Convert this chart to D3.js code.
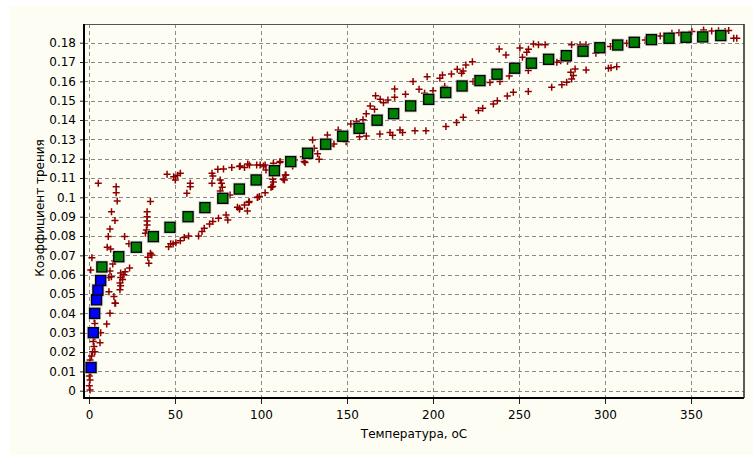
<!DOCTYPE html>
<html>
<head>
<meta charset="utf-8">
<script src="https://cdn.jsdelivr.net/npm/d3@7"></script>
<style>
  html, body { margin: 0; padding: 0; background: #ffffff; }
  svg { display: block; }
  text { font-family: "DejaVu Sans", sans-serif; font-size: 12px; fill: #000; }
</style>
</head>
<body>
<div id="chart"></div>
<script>
// тики осей
let xTicks = [0, 50, 100, 150, 200, 250, 300, 350]
let yTicks = [0, 0.01, 0.02, 0.03, 0.04, 0.05, 0.06, 0.07, 0.08, 0.09, 0.1,
  0.11, 0.12, 0.13, 0.14, 0.15, 0.16, 0.17, 0.18]

// синие квадраты (начальный участок)
let blueT = [1.2, 2.5, 3.3, 4.4, 5.2, 6.8]
let blueK = [0.012, 0.030, 0.040, 0.047, 0.052, 0.057]

// зелёные квадраты
let greenT = [7.5, 17.3, 27.5, 37.4, 47.1, 57.6, 67.4, 77.8, 87.4, 97.2, 107.8,
  117.3, 127.1, 137.6, 147.5, 157.0, 167.5, 177.1, 187.0, 197.5, 207.4, 216.9,
  227.3, 237.2, 247.5, 257.2, 267.2, 277.5, 287.2, 297.0, 307.4, 317.0, 327.0,
  337.2, 347.1, 356.8, 367.3]
let greenK = [0.064, 0.0693, 0.0742, 0.0797, 0.0845, 0.090, 0.0947, 0.0995,
  0.1043, 0.109, 0.1138, 0.1185, 0.1228, 0.1275, 0.1316, 0.1357, 0.1399, 0.1433,
  0.1473, 0.1507, 0.1542, 0.1576, 0.1604, 0.1637, 0.1668, 0.1694, 0.1714, 0.1733,
  0.1756, 0.1774, 0.1788, 0.1802, 0.1816, 0.1823, 0.1828, 0.1830, 0.1837]

// экспериментальные точки (крестики): [температура, коэффициент]
let crossPts = [
  [0.6, 0.0004], [0.2, 0.0025], [0.6, 0.0055], [0.2, 0.0076], [1.0, 0.0098], [0.6, 0.0159],
  [1.5, 0.018], [2.1, 0.0202], [3.4, 0.0202], [2.9, 0.0228], [2.5, 0.0254], [3.4, 0.0279],
  [3.0, 0.0305], [3.4, 0.0348], [3.0, 0.0374], [6.4, 0.0248], [6.8, 0.030], [10.3, 0.0345],
  [12.2, 0.040], [15.1, 0.0452], [1.7, 0.0688], [1.0, 0.0624], [5.4, 0.1073],
  [11.6, 0.0512], [14.5, 0.0487], [15.4, 0.0452], [12.2, 0.0619], [11.6, 0.0585], [13.0, 0.059],
  [18.4, 0.0609], [18.4, 0.0585], [18.0, 0.0557], [18.4, 0.0543], [18.0, 0.0522],
  [20.3, 0.060], [21.0, 0.0615], [19.5, 0.0575], [23.6, 0.0635], [15.0, 0.0672], [13.8, 0.0655],
  [15.8, 0.1055], [15.8, 0.1024], [16.4, 0.0981], [13.1, 0.0926], [15.1, 0.088], [12.2, 0.0836],
  [11.2, 0.0797], [10.6, 0.0742], [12.6, 0.0733], [20.7, 0.0797], [23.2, 0.076],
  [35.7, 0.0978], [33.8, 0.0926], [33.8, 0.090], [33.8, 0.0878], [33.8, 0.0857], [33.4, 0.0831],
  [32.8, 0.0814], [35.7, 0.0711], [36.5, 0.0702], [34.8, 0.0659], [34.2, 0.069],
  [45.4, 0.112], [49.2, 0.1107], [50.2, 0.109], [53.1, 0.1125], [51.5, 0.1115],
  [58.9, 0.1073], [58.9, 0.1055], [56.9, 0.1021],
  [46.3, 0.0745], [47.5, 0.076], [48.9, 0.0759], [50.5, 0.0765], [53.1, 0.0776], [55.4, 0.0793],
  [57.9, 0.080], [63.7, 0.080], [65.7, 0.0823], [67.0, 0.084], [70.1, 0.0862], [72.0, 0.0875],
  [75.3, 0.0892], [79.7, 0.0909], [80.7, 0.0883], [86.3, 0.0949], [87.5, 0.0938], [93.1, 0.0978],
  [92.1, 0.0929], [97.9, 0.0999], [99.1, 0.1004], [102.4, 0.1024], [106.3, 0.1055], [107.2, 0.108],
  [71.5, 0.1125], [72.0, 0.1111], [74.9, 0.1145], [78.2, 0.1147], [83.0, 0.1154], [87.9, 0.1162],
  [92.3, 0.1173], [97.5, 0.1168], [102.4, 0.1168], [107.2, 0.1176],
  [71.5, 0.1073], [76.3, 0.109], [77.0, 0.1073], [77.5, 0.1052], [76.3, 0.1033], [82.0, 0.1012],
  [87.5, 0.1159], [90.4, 0.1155], [93.3, 0.1167], [99.5, 0.1167], [101.4, 0.1162], [102.9, 0.1142],
  [111.1, 0.1185], [116.4, 0.1176],
  [87.5, 0.0944], [90.4, 0.0961], [92.9, 0.0973], [98.1, 0.100], [105.8, 0.1052], [106.8, 0.1094],
  [113.6, 0.109], [114.5, 0.1116], [118.4, 0.1168], [125.1, 0.1185],
  [111.0, 0.118], [114.1, 0.1116], [112.9, 0.1094], [106.8, 0.1056], [118.4, 0.1162],
  [119.4, 0.1193], [124.6, 0.121], [125.6, 0.118],
  [130.0, 0.1297], [130.9, 0.1254], [132.9, 0.1225], [133.8, 0.1197], [138.6, 0.1323],
  [140.5, 0.1266], [142.4, 0.1276], [144.9, 0.1349], [149.5, 0.1288], [152.2, 0.138],
  [157.3, 0.1314], [161.2, 0.1317], [155.5, 0.1392],
  [159.3, 0.1401], [161.2, 0.1432], [163.5, 0.1473], [166.0, 0.1456], [166.6, 0.1525],
  [169.3, 0.1507], [171.2, 0.149], [173.8, 0.1504], [177.7, 0.1561], [177.7, 0.1518],
  [184.0, 0.1533], [188.4, 0.1599], [191.9, 0.1559], [195.1, 0.1538], [196.6, 0.1624],
  [200.0, 0.1552], [204.0, 0.1616], [205.5, 0.1633], [206.8, 0.1573], [210.7, 0.1638],
  [214.1, 0.1662], [216.6, 0.1642], [217.5, 0.1654], [219.1, 0.1685], [222.9, 0.1702],
  [223.3, 0.1599], [233.1, 0.1594], [238.9, 0.1599], [244.3, 0.1628],
  [169.1, 0.1328], [175.0, 0.1335], [176.5, 0.1321], [180.8, 0.1349], [182.3, 0.1335],
  [189.5, 0.1345], [195.9, 0.1345], [207.5, 0.1366], [213.7, 0.1387], [217.6, 0.1414],
  [226.4, 0.1449], [228.9, 0.1461], [235.1, 0.1483], [237.4, 0.150], [243.2, 0.1524],
  [246.7, 0.1544], [255.4, 0.1547], [269.0, 0.1569], [274.9, 0.1583], [277.7, 0.1595],
  [280.6, 0.1612], [281.6, 0.163], [280.1, 0.1647], [282.6, 0.1664], [289.0, 0.1659],
  [302.0, 0.1668], [306.8, 0.1676], [303.5, 0.167],
  [238.5, 0.1768], [242.4, 0.1737], [250.5, 0.1773], [252.0, 0.1725], [254.5, 0.175],
  [255.5, 0.1766], [258.4, 0.1793], [261.3, 0.179], [265.2, 0.179], [255.4, 0.1656],
  [268.0, 0.1704], [272.0, 0.1699], [274.2, 0.1707], [278.2, 0.1704], [280.6, 0.179],
  [285.5, 0.179], [288.9, 0.179], [294.7, 0.1745], [303.2, 0.178], [312.6, 0.1797],
  [323.4, 0.1814], [332.1, 0.1835], [338.9, 0.1849], [350.5, 0.1858], [357.3, 0.1866],
  [369.8, 0.1858], [371.9, 0.1863], [374.8, 0.1823], [376.6, 0.1823], [366.0, 0.1862],
  [362.0, 0.186], [343.0, 0.1852]
]

let W = 753, H = 457
let margin = { left: 84, top: 24, right: 9, bottom: 59 }

let svg = d3.select("#chart").append("svg")
  .attr("width", W)
  .attr("height", H)

// фон панели
svg.append("rect")
  .attr("x", 10).attr("y", 6)
  .attr("width", W - 10).attr("height", H - 8)
  .attr("fill", "#fdfdf4")

let x = d3.scaleLinear().domain([-2.9, 380.8]).range([margin.left, W - margin.right])
let y = d3.scaleLinear().domain([-0.00378, 0.18967]).range([H - margin.bottom, margin.top])

// сетка
let grid = svg.append("g").attr("stroke", "#8a8a8a").attr("stroke-dasharray", "4,3")
grid.selectAll(".gx").data(xTicks).enter().append("line")
  .attr("x1", d => Math.round(x(d)) + 0.5).attr("x2", d => Math.round(x(d)) + 0.5)
  .attr("y1", margin.top).attr("y2", H - margin.bottom)
grid.selectAll(".gy").data(yTicks).enter().append("line")
  .attr("y1", d => Math.round(y(d)) + 0.5).attr("y2", d => Math.round(y(d)) + 0.5)
  .attr("x1", margin.left).attr("x2", W - margin.right)

// рамка сверху и справа
svg.append("line")
  .attr("x1", margin.left).attr("x2", W - margin.right)
  .attr("y1", margin.top + 0.5).attr("y2", margin.top + 0.5)
  .attr("stroke", "#555").attr("stroke-width", 1.2)
svg.append("line")
  .attr("x1", W - margin.right).attr("x2", W - margin.right)
  .attr("y1", margin.top).attr("y2", H - margin.bottom)
  .attr("stroke", "#333").attr("stroke-width", 1.6)

// ось X
let gx = svg.append("g")
  .attr("transform", `translate(0,${H - margin.bottom})`)
  .call(d3.axisBottom(x).tickValues(d3.range(0, 381, 12.5)).tickSize(4).tickFormat(""))
gx.call(d3.axisBottom(x).tickValues(xTicks).tickSize(6).tickPadding(6).tickFormat(d => d))
gx.select(".domain").remove()

// ось Y
let gy = svg.append("g")
  .attr("transform", `translate(${margin.left},0)`)
  .call(d3.axisLeft(y).tickValues(yTicks).tickSize(4).tickPadding(4)
    .tickFormat(d => String(+d.toFixed(2))))
gy.select(".domain").remove()

svg.selectAll(".tick text").attr("font-size", "12px").attr("font-family", "DejaVu Sans, sans-serif")
svg.selectAll(".tick line").attr("stroke", "#222")

// жирные линии осей
svg.append("line")
  .attr("x1", margin.left).attr("x2", margin.left)
  .attr("y1", margin.top).attr("y2", H - margin.bottom + 1)
  .attr("stroke", "#000").attr("stroke-width", 2)
svg.append("line")
  .attr("x1", margin.left - 1).attr("x2", W - margin.right)
  .attr("y1", H - margin.bottom).attr("y2", H - margin.bottom)
  .attr("stroke", "#000").attr("stroke-width", 2)

// крестики
svg.append("g").selectAll("path").data(crossPts).enter().append("path")
  .attr("transform", d => `translate(${x(d[0])},${y(d[1])})`)
  .attr("d", "M-3.5,0H3.5M0,-3.5V3.5")
  .attr("stroke", "#8e0000")
  .attr("stroke-width", 1.5)
  .attr("fill", "none")

// квадраты
function squares(ts, ks, color) {
  let pts = ts.map((t, i) => [t, ks[i]])
  let g = svg.append("g")
  g.selectAll(".halo").data(pts).enter().append("rect")
    .attr("x", d => x(d[0]) - 6.5).attr("y", d => y(d[1]) - 6.5)
    .attr("width", 13).attr("height", 13)
    .attr("fill", "#b8b8b8").attr("opacity", 0.6)
  g.selectAll(".sq").data(pts).enter().append("rect")
    .attr("x", d => x(d[0]) - 5).attr("y", d => y(d[1]) - 5)
    .attr("width", 10).attr("height", 10)
    .attr("fill", color)
    .attr("stroke", "#000").attr("stroke-width", 1.3)
}
squares(greenT, greenK, "#008000")
squares(blueT, blueK, "#0000ff")

// подписи осей
svg.append("text")
  .attr("x", (margin.left + W - margin.right) / 2)
  .attr("y", 438)
  .attr("text-anchor", "middle")
  .text("Температура, оС")

svg.append("text")
  .attr("transform", `translate(44,${(margin.top + H - margin.bottom) / 2 - 3}) rotate(-90)`)
  .attr("text-anchor", "middle")
  .text("Коэффициент трения")
</script>
</body>
</html>
